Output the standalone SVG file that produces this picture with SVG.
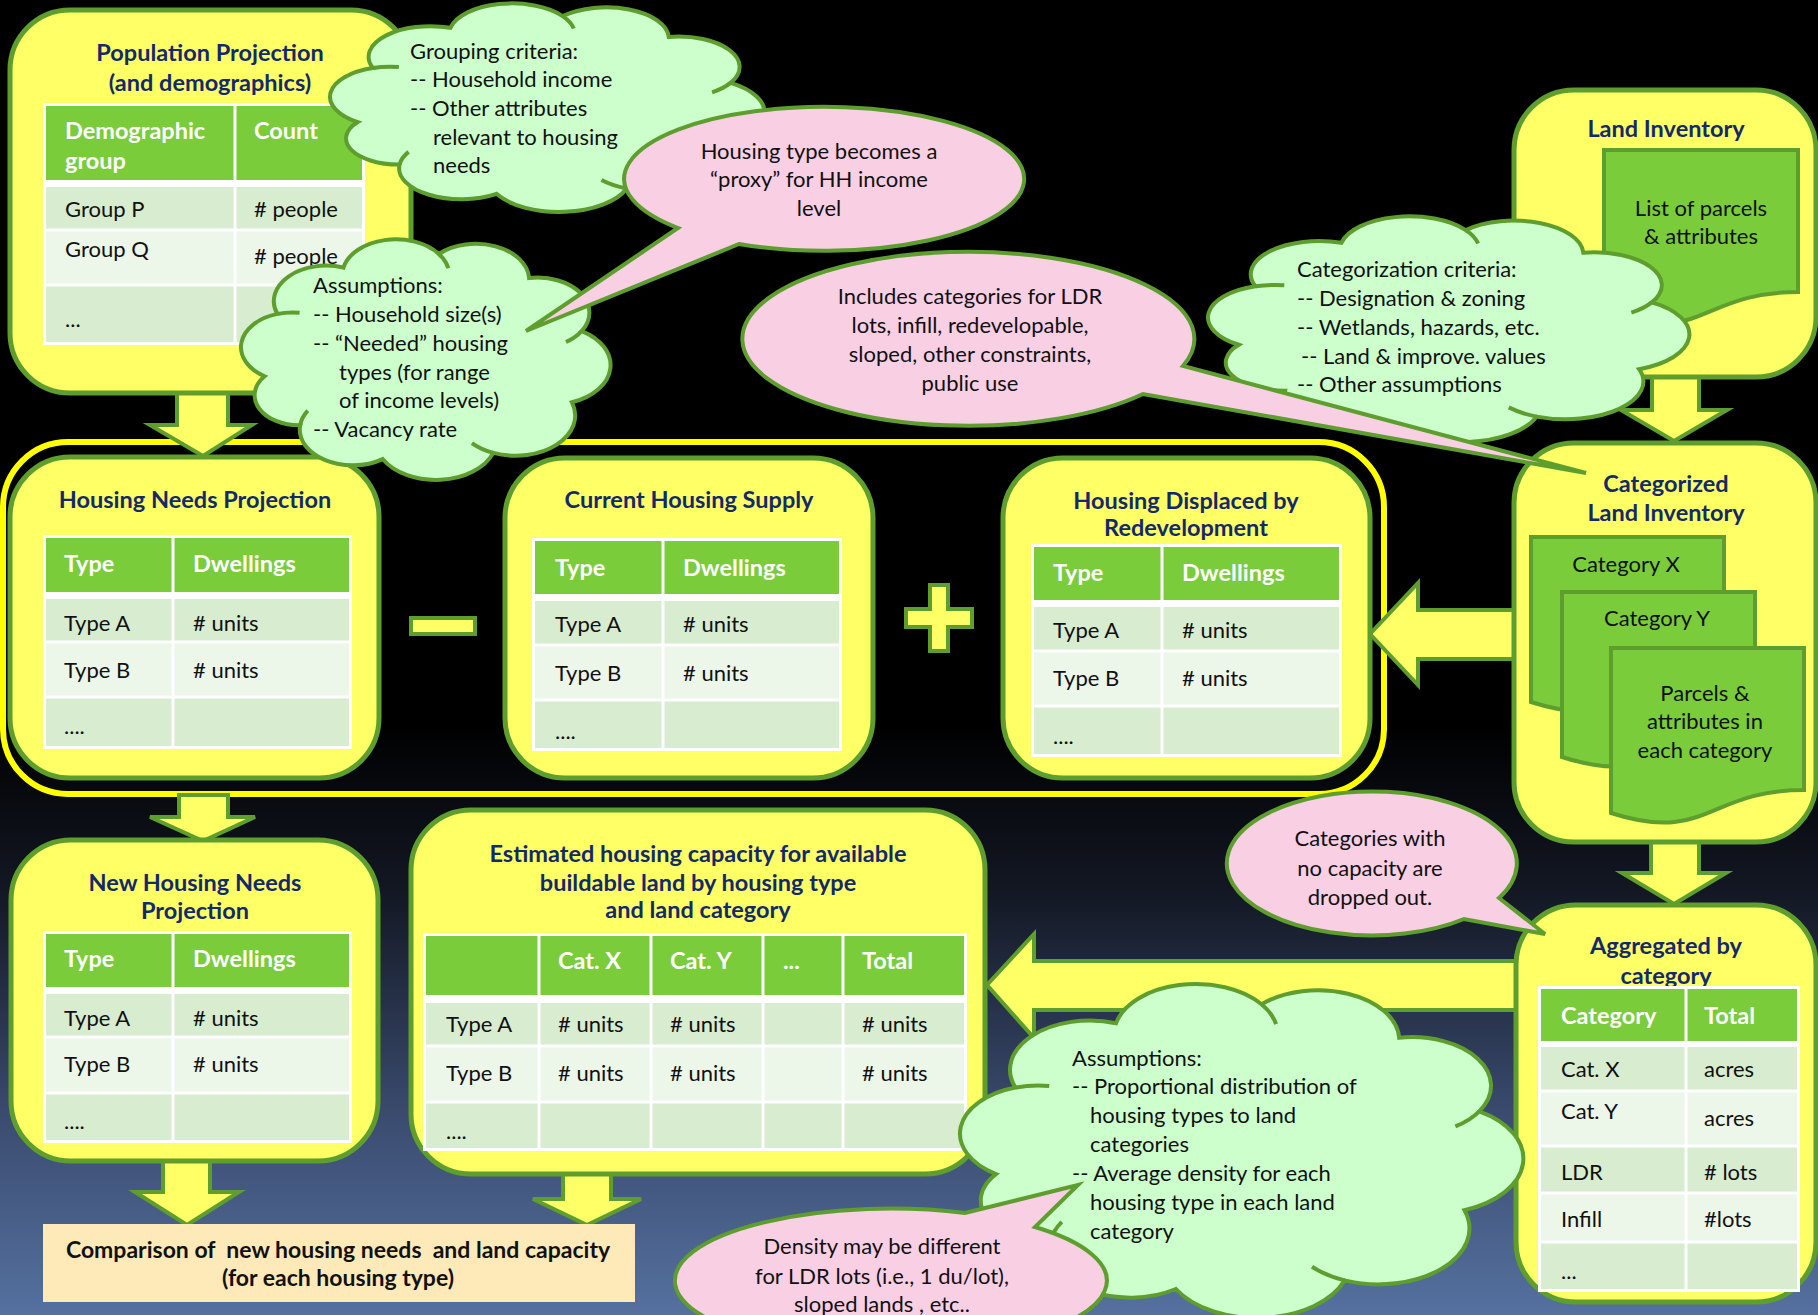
<svg xmlns="http://www.w3.org/2000/svg" xmlns:xlink="http://www.w3.org/1999/xlink" width="1818" height="1315" viewBox="0 0 1818 1315">
<defs>
<linearGradient id="bg" x1="0" y1="0" x2="0" y2="1">
<stop offset="0" stop-color="#000"/>
<stop offset="0.55" stop-color="#000"/>
<stop offset="0.68" stop-color="#131824"/>
<stop offset="0.85" stop-color="#3b4c70"/>
<stop offset="1" stop-color="#55719f"/>
</linearGradient>
<path id="cloud" vector-effect="non-scaling-stroke" d="M7.65,57.12 A13.6,13.6 0 0 1 11.03,32.67 A13.9,13.9 0 0 1 28.5,14.49 A14.2,14.2 0 0 1 53.75,9.16 A14.1,14.1 0 0 1 77.64,18.59 A13.75,13.75 0 0 1 91.54,39.39 A15.5,15.5 0 0 1 88.97,67.33 A15.8,15.8 0 0 1 68.17,87.16 A16.2,16.2 0 0 1 38.87,89.6 A14,14 0 0 1 17.06,76.36 A11.8,11.8 0 0 1 7.65,57.12 Z"/>
<path id="crease" vector-effect="non-scaling-stroke" fill="none" d="M11.03,32.67 A13.6,13.6 0 0 1 16.9,32.22 M53.75,9.16 A14.2,14.2 0 0 1 56.27,14.78 M91.54,39.39 A13.75,13.75 0 0 1 87.39,43.67 M68.17,87.16 A15.8,15.8 0 0 1 62.5,83.31 M17.06,76.36 A14,14 0 0 1 19.08,70.64"/>
<path id="crease2" vector-effect="non-scaling-stroke" fill="none" d="M11.03,32.67 A13.6,13.6 0 0 1 16.9,32.22 M53.75,9.16 A14.2,14.2 0 0 1 56.27,14.78 M91.54,39.39 A13.75,13.75 0 0 1 87.39,43.67 M68.17,87.16 A15.8,15.8 0 0 1 62.5,83.31"/>
<style>
.box{fill:#ffff66;stroke:#5e9e2e;stroke-width:5}
.arr{fill:#ffff66;stroke:#5e9e2e;stroke-width:4;stroke-linejoin:miter}
.cl{fill:#ccffcc;stroke:#5e9e2e;stroke-width:4}
.cr{fill:none;stroke:#5e9e2e;stroke-width:4}
.pk{fill:#f9cfe4;stroke:#5e9e2e;stroke-width:4;stroke-linejoin:miter}
.doc{fill:#7acc3a;stroke:#5e9e2e;stroke-width:4}
.tw{fill:#ffffff}
.th{fill:#7acc3a}
.r1{fill:#d8ecd0}
.r2{fill:#ecf6e9}
text{font-family:Lato,"Open Sans","Liberation Sans",sans-serif;font-size:22px;fill:#111;dominant-baseline:central}
.ttl{font-weight:bold;fill:#13296a;text-anchor:middle;font-size:23.5px}
.hd{font-weight:bold;fill:#ffffff;font-size:23.5px}
.c{text-anchor:middle}
.b{font-weight:bold;font-size:23px}
</style>
</defs>
<rect x="0" y="0" width="1818" height="1315" fill="url(#bg)"/>
<rect id="group-ring" x="3" y="442" width="1381" height="352" rx="65" fill="none" stroke="#ffff00" stroke-width="6"/>

<g id="connectors">
<polygon class="arr" points="177,388 228,388 228,425 252,425 203,456 150,425 177,425"/>
<polygon class="arr" points="179,795 228,795 228,817 255,817 203,841 150,817 179,817"/>
<polygon class="arr" points="163,1155 210,1155 210,1192 239,1192 187,1225 135,1192 163,1192"/>
<polygon class="arr" points="563,1168 611,1168 611,1199 641,1199 587,1225 533,1199 563,1199"/>
<polygon class="arr" points="1652,372 1699,372 1699,410 1727,410 1674,441 1621,410 1652,410"/>
<polygon class="arr" points="1651,838 1699,838 1699,873 1726,873 1674,904 1622,873 1651,873"/>
<polygon class="arr" points="1520,610 1418,610 1418,583 1370,634 1418,685 1418,659 1520,659"/>
<polygon class="arr" points="1520,961 1034,961 1034,934 987,985 1034,1038 1034,1010 1520,1010"/>
</g>

<g id="population-projection">
<rect class="box" x="10" y="10" width="401" height="383" rx="60"/>
<text class="ttl" x="210" y="52">Population Projection</text>
<text class="ttl" x="210" y="82">(and demographics)</text>
<rect class="tw" x="43" y="103" width="322" height="242"/>
<rect class="th" x="46" y="106" width="187.5" height="74"/>
<rect class="th" x="236.5" y="106" width="125.5" height="74"/>
<rect class="r1" x="46" y="187" width="187.5" height="41.5"/>
<rect class="r1" x="236.5" y="187" width="125.5" height="41.5"/>
<rect class="r2" x="46" y="231.5" width="187.5" height="52"/>
<rect class="r2" x="236.5" y="231.5" width="125.5" height="52"/>
<rect class="r1" x="46" y="286.5" width="187.5" height="55.5"/>
<rect class="r1" x="236.5" y="286.5" width="125.5" height="55.5"/>
<text class="hd" x="65" y="130">Demographic</text>
<text class="hd" x="65" y="160">group</text>
<text class="hd" x="254" y="130">Count</text>
<text x="65" y="208">Group P</text>
<text x="254" y="208"># people</text>
<text x="65" y="248">Group Q</text>
<text x="254" y="255"># people</text>
<text x="65" y="318">...</text>
</g>

<g id="land-inventory">
<rect class="box" x="1514" y="90" width="302" height="287" rx="60"/>
<text class="ttl" x="1666" y="128">Land Inventory</text>
<path class="doc" d="M1604,150 H1798 V292 C1701,292 1701,346 1604,315 Z"/>
<text class="c" x="1701" y="207">List of parcels</text>
<text class="c" x="1701" y="235">&amp; attributes</text>
</g>

<g id="housing-needs-projection">
<rect class="box" x="10" y="457" width="369" height="321" rx="60"/>
<text class="ttl" x="195" y="499">Housing Needs Projection</text>
<rect class="tw" x="43" y="535" width="309" height="214"/>
<rect class="th" x="46" y="538" width="125.5" height="54"/>
<rect class="th" x="174.5" y="538" width="174.5" height="54"/>
<rect class="r1" x="46" y="599" width="125.5" height="41.5"/>
<rect class="r1" x="174.5" y="599" width="174.5" height="41.5"/>
<rect class="r2" x="46" y="643.5" width="125.5" height="52"/>
<rect class="r2" x="174.5" y="643.5" width="174.5" height="52"/>
<rect class="r1" x="46" y="698.5" width="125.5" height="47.5"/>
<rect class="r1" x="174.5" y="698.5" width="174.5" height="47.5"/>
<text class="hd" x="64" y="563">Type</text>
<text class="hd" x="193" y="563">Dwellings</text>
<text x="64" y="622">Type A</text>
<text x="193" y="622"># units</text>
<text x="64" y="669">Type B</text>
<text x="193" y="669"># units</text>
<text x="64" y="725">....</text>
</g>

<rect id="minus" class="box" x="411" y="618" width="64" height="16" style="stroke-width:4"/>

<g id="current-housing-supply">
<rect class="box" x="505" y="458" width="368" height="320" rx="60"/>
<text class="ttl" x="689" y="499">Current Housing Supply</text>
<rect class="tw" x="532" y="538" width="310" height="213"/>
<rect class="th" x="535" y="541" width="126.5" height="53"/>
<rect class="th" x="664.5" y="541" width="174.5" height="53"/>
<rect class="r1" x="535" y="601" width="126.5" height="42.5"/>
<rect class="r1" x="664.5" y="601" width="174.5" height="42.5"/>
<rect class="r2" x="535" y="646.5" width="126.5" height="52"/>
<rect class="r2" x="664.5" y="646.5" width="174.5" height="52"/>
<rect class="r1" x="535" y="701.5" width="126.5" height="46.5"/>
<rect class="r1" x="664.5" y="701.5" width="174.5" height="46.5"/>
<text class="hd" x="555" y="567">Type</text>
<text class="hd" x="683" y="567">Dwellings</text>
<text x="555" y="623">Type A</text>
<text x="683" y="623"># units</text>
<text x="555" y="672">Type B</text>
<text x="683" y="672"># units</text>
<text x="555" y="730">....</text>
</g>

<polygon id="plus" class="box" style="stroke-width:4" points="930,585 948,585 948,609 972,609 972,627 948,627 948,651 930,651 930,627 906,627 906,609 930,609"/>

<g id="housing-displaced">
<rect class="box" x="1003" y="458" width="367" height="320" rx="60"/>
<text class="ttl" x="1186" y="500">Housing Displaced by</text>
<text class="ttl" x="1186" y="527">Redevelopment</text>
<rect class="tw" x="1031" y="544" width="311" height="213"/>
<rect class="th" x="1034" y="547" width="126.5" height="53"/>
<rect class="th" x="1163.5" y="547" width="175.5" height="53"/>
<rect class="r1" x="1034" y="607" width="126.5" height="42.5"/>
<rect class="r1" x="1163.5" y="607" width="175.5" height="42.5"/>
<rect class="r2" x="1034" y="652.5" width="126.5" height="52"/>
<rect class="r2" x="1163.5" y="652.5" width="175.5" height="52"/>
<rect class="r1" x="1034" y="707.5" width="126.5" height="46.5"/>
<rect class="r1" x="1163.5" y="707.5" width="175.5" height="46.5"/>
<text class="hd" x="1053" y="572">Type</text>
<text class="hd" x="1182" y="572">Dwellings</text>
<text x="1053" y="629">Type A</text>
<text x="1182" y="629"># units</text>
<text x="1053" y="677">Type B</text>
<text x="1182" y="677"># units</text>
<text x="1053" y="735">....</text>
</g>

<g id="categorized-land-inventory">
<rect class="box" x="1514" y="443" width="302" height="399" rx="60"/>
<text class="ttl" x="1666" y="483">Categorized</text>
<text class="ttl" x="1666" y="512">Land Inventory</text>
<path class="doc" d="M1531,537 H1724 V679 C1627.5,679 1627.5,733 1531,702 Z"/>
<text class="c" x="1626" y="563">Category X</text>
<path class="doc" d="M1562,592 H1755 V734 C1658.5,734 1658.5,788 1562,757 Z"/>
<text class="c" x="1657" y="617">Category Y</text>
<path class="doc" d="M1611,648 H1804 V790 C1707.5,790 1707.5,844 1611,813 Z"/>
<text class="c" x="1705" y="692">Parcels &amp;</text>
<text class="c" x="1705" y="720">attributes in</text>
<text class="c" x="1705" y="749">each category</text>
</g>

<g id="new-housing-needs">
<rect class="box" x="11" y="840" width="367" height="321" rx="60"/>
<text class="ttl" x="195" y="882">New Housing Needs</text>
<text class="ttl" x="195" y="910">Projection</text>
<rect class="tw" x="43" y="931" width="309" height="212"/>
<rect class="th" x="46" y="934" width="125.5" height="53"/>
<rect class="th" x="174.5" y="934" width="174.5" height="53"/>
<rect class="r1" x="46" y="994" width="125.5" height="41.5"/>
<rect class="r1" x="174.5" y="994" width="174.5" height="41.5"/>
<rect class="r2" x="46" y="1038.5" width="125.5" height="53"/>
<rect class="r2" x="174.5" y="1038.5" width="174.5" height="53"/>
<rect class="r1" x="46" y="1094.5" width="125.5" height="45.5"/>
<rect class="r1" x="174.5" y="1094.5" width="174.5" height="45.5"/>
<text class="hd" x="64" y="958">Type</text>
<text class="hd" x="193" y="958">Dwellings</text>
<text x="64" y="1017">Type A</text>
<text x="193" y="1017"># units</text>
<text x="64" y="1063">Type B</text>
<text x="193" y="1063"># units</text>
<text x="64" y="1120">....</text>
</g>

<g id="estimated-capacity">
<rect class="box" x="411" y="810" width="574" height="364" rx="60"/>
<text class="ttl" x="698" y="853">Estimated housing capacity for available</text>
<text class="ttl" x="698" y="882">buildable land by housing type</text>
<text class="ttl" x="698" y="909">and land category</text>
<rect class="tw" x="423" y="933" width="544" height="218"/>
<rect class="th" x="426" y="936" width="111.5" height="59"/>
<rect class="th" x="540.5" y="936" width="109" height="59"/>
<rect class="th" x="652.5" y="936" width="109" height="59"/>
<rect class="th" x="764.5" y="936" width="77" height="59"/>
<rect class="th" x="844.5" y="936" width="119.5" height="59"/>
<rect class="r1" x="426" y="1003" width="111.5" height="41.5"/>
<rect class="r1" x="540.5" y="1003" width="109" height="41.5"/>
<rect class="r1" x="652.5" y="1003" width="109" height="41.5"/>
<rect class="r1" x="764.5" y="1003" width="77" height="41.5"/>
<rect class="r1" x="844.5" y="1003" width="119.5" height="41.5"/>
<rect class="r2" x="426" y="1047.5" width="111.5" height="53"/>
<rect class="r2" x="540.5" y="1047.5" width="109" height="53"/>
<rect class="r2" x="652.5" y="1047.5" width="109" height="53"/>
<rect class="r2" x="764.5" y="1047.5" width="77" height="53"/>
<rect class="r2" x="844.5" y="1047.5" width="119.5" height="53"/>
<rect class="r1" x="426" y="1103.5" width="111.5" height="44.5"/>
<rect class="r1" x="540.5" y="1103.5" width="109" height="44.5"/>
<rect class="r1" x="652.5" y="1103.5" width="109" height="44.5"/>
<rect class="r1" x="764.5" y="1103.5" width="77" height="44.5"/>
<rect class="r1" x="844.5" y="1103.5" width="119.5" height="44.5"/>
<text class="hd" x="558" y="960">Cat. X</text>
<text class="hd" x="670" y="960">Cat. Y</text>
<text class="hd" x="783" y="960">...</text>
<text class="hd" x="862" y="960">Total</text>
<text x="446" y="1023">Type A</text>
<text x="558" y="1023"># units</text>
<text x="670" y="1023"># units</text>
<text x="862" y="1023"># units</text>
<text x="446" y="1072">Type B</text>
<text x="558" y="1072"># units</text>
<text x="670" y="1072"># units</text>
<text x="862" y="1072"># units</text>
<text x="446" y="1130">....</text>
</g>

<g id="aggregated-by-category">
<rect class="box" x="1516" y="905" width="300" height="397" rx="60"/>
<text class="ttl" x="1666" y="945">Aggregated by</text>
<text class="ttl" x="1666" y="975">category</text>
<rect class="tw" x="1538" y="986" width="262" height="306"/>
<rect class="th" x="1541" y="989" width="143.5" height="52"/>
<rect class="th" x="1687.5" y="989" width="109.5" height="52"/>
<rect class="r1" x="1541" y="1047" width="143.5" height="42.5"/>
<rect class="r1" x="1687.5" y="1047" width="109.5" height="42.5"/>
<rect class="r2" x="1541" y="1092.5" width="143.5" height="52"/>
<rect class="r2" x="1687.5" y="1092.5" width="109.5" height="52"/>
<rect class="r1" x="1541" y="1147.5" width="143.5" height="44"/>
<rect class="r1" x="1687.5" y="1147.5" width="109.5" height="44"/>
<rect class="r2" x="1541" y="1194.5" width="143.5" height="46"/>
<rect class="r2" x="1687.5" y="1194.5" width="109.5" height="46"/>
<rect class="r1" x="1541" y="1243.5" width="143.5" height="45.5"/>
<rect class="r1" x="1687.5" y="1243.5" width="109.5" height="45.5"/>
<text class="hd" x="1561" y="1015">Category</text>
<text class="hd" x="1704" y="1015">Total</text>
<text x="1561" y="1068">Cat. X</text>
<text x="1704" y="1068">acres</text>
<text x="1561" y="1110">Cat. Y</text>
<text x="1704" y="1117">acres</text>
<text x="1561" y="1171">LDR</text>
<text x="1704" y="1171"># lots</text>
<text x="1561" y="1218">Infill</text>
<text x="1704" y="1218">#lots</text>
<text x="1561" y="1270">...</text>
</g>

<g id="comparison">
<rect x="43" y="1224" width="592" height="78" fill="#fdeab8"/>
<text class="c b" x="338" y="1249" xml:space="preserve">Comparison of  new housing needs  and land capacity</text>
<text class="c b" x="338" y="1277">(for each housing type)</text>
</g>

<g id="cloud-grouping-criteria">
<g transform="translate(323.8 -4.18) scale(4.443 2.21)"><use href="#cloud" class="cl"/><use href="#crease" class="cr"/></g>
<text x="410" y="50">Grouping criteria:</text>
<text x="410" y="78">-- Household income</text>
<text x="410" y="107">-- Other attributes</text>
<text x="433" y="136">relevant to housing</text>
<text x="433" y="164">needs</text>
</g>

<g id="cloud-assumptions-needs">
<g transform="translate(235.7 230.6) scale(3.779 2.55)"><use href="#cloud" class="cl"/><use href="#crease" class="cr"/></g>
<text x="313" y="284">Assumptions:</text>
<text x="313" y="313">-- Household size(s)</text>
<text x="313" y="342">-- “Needed” housing</text>
<text x="339" y="371">types (for range</text>
<text x="339" y="399">of income levels)</text>
<text x="313" y="428">-- Vacancy rate</text>
</g>

<g id="cloud-categorization-criteria">
<g transform="translate(1201.1 208.2) scale(4.923 2.391)"><use href="#cloud" class="cl"/><use href="#crease2" class="cr"/></g>
<text x="1297" y="268">Categorization criteria:</text>
<text x="1297" y="297">-- Designation &amp; zoning</text>
<text x="1297" y="326">-- Wetlands, hazards, etc.</text>
<text x="1301" y="355">-- Land &amp; improve. values</text>
<text x="1297" y="383">-- Other assumptions</text>
</g>

<g id="cloud-assumptions-capacity">
<g transform="translate(951.9 971.9) scale(5.761 3.539)"><use href="#cloud" class="cl"/><use href="#crease" class="cr"/></g>
<text x="1072" y="1057">Assumptions:</text>
<text x="1072" y="1085">-- Proportional distribution of</text>
<text x="1090" y="1114">housing types to land</text>
<text x="1090" y="1143">categories</text>
<text x="1072" y="1172">-- Average density for each</text>
<text x="1090" y="1201">housing type in each land</text>
<text x="1090" y="1230">category</text>
</g>

<g id="note-proxy">
<path class="pk" d="M678,228 A200,72 0 1 1 739,244 L526,331 Z"/>
<text class="c" x="819" y="150">Housing type becomes a</text>
<text class="c" x="819" y="178">“proxy” for HH income</text>
<text class="c" x="819" y="207">level</text>
</g>

<g id="note-includes">
<path class="pk" d="M1143,394 A226,87 0 1 1 1183,366 L1586,473 Z"/>
<text class="c" x="970" y="295">Includes categories for LDR</text>
<text class="c" x="970" y="324">lots, infill, redevelopable,</text>
<text class="c" x="970" y="353">sloped, other constraints,</text>
<text class="c" x="970" y="382">public use</text>
</g>

<g id="note-dropped">
<path class="pk" d="M1464,919 A145,72 0 1 1 1499,898 L1545,934 Z"/>
<text class="c" x="1370" y="837">Categories with</text>
<text class="c" x="1370" y="867">no capacity are</text>
<text class="c" x="1370" y="896">dropped out.</text>
</g>

<g id="note-density">
<path class="pk" d="M1035,1227 A216,72 0 1 1 965,1213 L1078,1185 Z"/>
<text class="c" x="882" y="1245">Density may be different</text>
<text class="c" x="882" y="1275">for LDR lots (i.e., 1 du/lot),</text>
<text class="c" x="882" y="1303">sloped lands , etc..</text>
</g>
</svg>
